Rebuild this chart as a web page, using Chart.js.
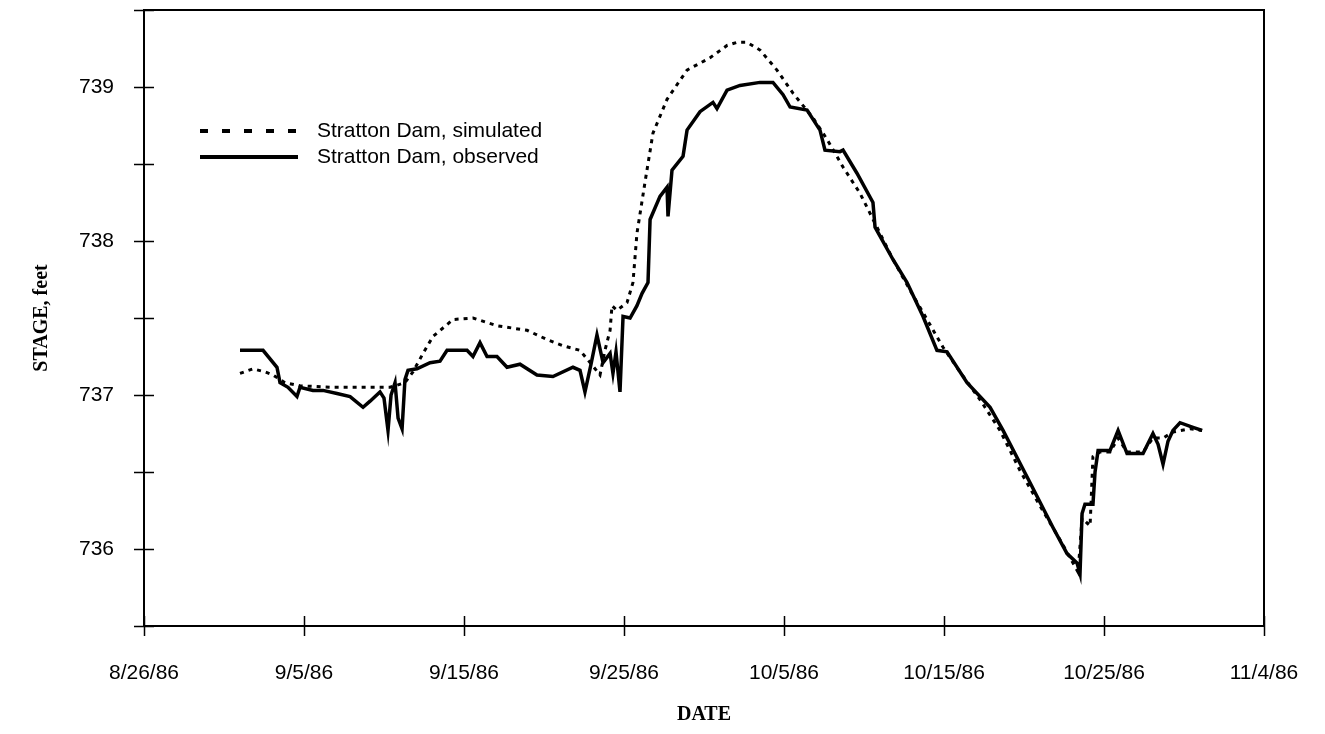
<!DOCTYPE html>
<html>
<head>
<meta charset="utf-8">
<script src="https://cdn.jsdelivr.net/npm/chart.js@4"></script>
<style>
  html, body { margin: 0; padding: 0; background: #fff; }
  #wrap { width: 1325px; height: 734px; }
</style>
</head>
<body>
<div id="wrap"><canvas id="c" width="1325" height="734"></canvas></div>
<script>
// Days after 8/26/86
const xTickLabels = ['8/26/86', '9/5/86', '9/15/86', '9/25/86', '10/5/86', '10/15/86', '10/25/86', '11/4/86'];

const observedDays = [6.0, 7.06, 7.44, 8.31, 8.5, 9.0, 9.56, 9.75, 10.56, 11.19, 12.06, 12.88, 13.69, 14.13, 14.75, 15.0, 15.25, 15.44, 15.69, 15.88, 16.13, 16.31, 16.5, 17.06, 17.88, 18.5, 18.94, 20.19, 20.56, 21.0, 21.44, 22.06, 22.69, 23.5, 24.56, 25.56, 26.81, 27.25, 27.56, 27.94, 28.31, 28.69, 29.13, 29.31, 29.5, 29.75, 29.94, 30.38, 30.81, 31.13, 31.5, 31.63, 32.25, 32.69, 32.75, 33.0, 33.69, 33.94, 34.75, 35.56, 35.81, 36.44, 37.25, 38.5, 39.31, 39.94, 40.38, 41.44, 42.25, 42.56, 43.5, 43.69, 44.56, 45.56, 45.69, 46.81, 47.69, 48.69, 49.56, 50.19, 51.44, 52.88, 53.69, 55.38, 56.81, 57.69, 58.31, 58.5, 58.63, 58.81, 59.31, 59.44, 59.63, 60.38, 60.88, 61.44, 62.44, 63.06, 63.38, 63.69, 64.0, 64.31, 64.75, 65.56, 66.13];
const observedStage = [737.29, 737.29, 737.29, 737.18, 737.08, 737.05, 736.99, 737.05, 737.03, 737.03, 737.01, 736.99, 736.92, 736.96, 737.02, 736.98, 736.77, 737.0, 737.08, 736.85, 736.78, 737.1, 737.16, 737.17, 737.21, 737.22, 737.29, 737.29, 737.25, 737.34, 737.25, 737.25, 737.18, 737.2, 737.13, 737.12, 737.18, 737.16, 737.02, 737.2, 737.39, 737.21, 737.27, 737.14, 737.28, 737.02, 737.51, 737.5, 737.58, 737.66, 737.73, 738.14, 738.29, 738.35, 738.16, 738.46, 738.55, 738.72, 738.84, 738.9, 738.86, 738.98, 739.01, 739.03, 739.03, 738.95, 738.87, 738.85, 738.72, 738.59, 738.58, 738.59, 738.44, 738.25, 738.09, 737.88, 737.73, 737.51, 737.29, 737.28, 737.08, 736.92, 736.77, 736.43, 736.14, 735.97, 735.91, 735.84, 736.23, 736.29, 736.29, 736.5, 736.64, 736.64, 736.77, 736.62, 736.62, 736.75, 736.68, 736.55, 736.7, 736.77, 736.82, 736.79, 736.77];

const simulatedDays = [6.0, 6.81, 7.56, 8.06, 8.81, 9.75, 11.63, 13.5, 15.38, 16.31, 16.81, 17.44, 18.06, 19.31, 20.56, 22.06, 23.94, 25.19, 26.19, 27.25, 27.88, 28.5, 28.81, 29.13, 29.25, 29.56, 30.19, 30.56, 30.81, 31.31, 31.81, 32.69, 33.94, 35.38, 36.44, 37.06, 37.69, 38.5, 39.56, 40.56, 41.81, 42.69, 43.69, 44.75, 45.81, 46.81, 47.88, 48.94, 49.94, 51.0, 52.25, 53.5, 54.75, 56.0, 57.25, 58.38, 58.63, 59.13, 59.31, 59.75, 60.38, 60.88, 61.44, 62.44, 63.06, 63.69, 64.31, 65.38, 66.13];
const simulatedStage = [737.14, 737.17, 737.15, 737.13, 737.08, 737.06, 737.05, 737.05, 737.05, 737.08, 737.15, 737.27, 737.38, 737.49, 737.5, 737.45, 737.42, 737.36, 737.32, 737.29, 737.21, 737.13, 737.29, 737.42, 737.58, 737.55, 737.6, 737.73, 738.05, 738.38, 738.7, 738.92, 739.11, 739.19, 739.27, 739.29, 739.29, 739.24, 739.11, 738.96, 738.8, 738.66, 738.48, 738.31, 738.09, 737.88, 737.68, 737.49, 737.31, 737.15, 736.97, 736.77, 736.51, 736.28, 736.06, 735.85, 736.2, 736.15, 736.6, 736.63, 736.63, 736.72, 736.63, 736.63, 736.72, 736.72, 736.76, 736.78, 736.77];

const seriesLabels = ['Stratton Dam, simulated', 'Stratton Dam, observed'];

const toPts = (xs, ys) => xs.map((x, i) => ({x: x, y: ys[i]}));

const frameAndTicks = {
  id: 'frameAndTicks',
  afterDraw(chart) {
    const ctx = chart.ctx;
    const a = chart.chartArea;
    const xs = chart.scales.x, ys = chart.scales.y;
    ctx.save();
    ctx.strokeStyle = '#000';
    ctx.lineWidth = 2;
    ctx.strokeRect(a.left, a.top, a.right - a.left, a.bottom - a.top);
    ctx.lineWidth = 1.5;
    ctx.beginPath();
    ys.ticks.forEach(t => {
      const py = Math.round(ys.getPixelForValue(t.value)) + 0.5;
      ctx.moveTo(a.left - 10, py); ctx.lineTo(a.left + 10, py);
    });
    xs.ticks.forEach(t => {
      const px = Math.round(xs.getPixelForValue(t.value)) + 0.5;
      ctx.moveTo(px, a.bottom - 10); ctx.lineTo(px, a.bottom + 10);
    });
    ctx.stroke();

    // legend inside plot
    const items = chart.data.datasets;
    const lx0 = 200, lx1 = 298, tx = 317;
    const lys = [131, 157];
    ctx.font = '21px "Liberation Sans", Arial, sans-serif';
    ctx.textBaseline = 'middle';
    ctx.fillStyle = '#000';
    items.forEach((ds, i) => {
      ctx.beginPath();
      ctx.lineWidth = 4;
      ctx.setLineDash(i === 0 ? [8, 14] : []);
      ctx.moveTo(lx0, lys[i]); ctx.lineTo(lx1, lys[i]);
      ctx.stroke();
      ctx.setLineDash([]);
      ctx.fillText(ds.label, tx, lys[i]);
    });
    ctx.restore();
  }
};

new Chart(document.getElementById('c'), {
  type: 'line',
  data: {
    datasets: [
      {
        label: seriesLabels[0],
        data: toPts(simulatedDays, simulatedStage),
        borderColor: '#000',
        borderWidth: 3,
        borderDash: [4, 5],
        pointRadius: 0,
        tension: 0,
        fill: false
      },
      {
        label: seriesLabels[1],
        data: toPts(observedDays, observedStage),
        borderColor: '#000',
        borderWidth: 3.5,
        pointRadius: 0,
        tension: 0,
        fill: false
      }
    ]
  },
  options: {
    responsive: false,
    animation: false,
    events: [],
    layout: { padding: { top: 10, right: 61, left: 0, bottom: 0 } },
    plugins: { legend: { display: false }, tooltip: { enabled: false } },
    scales: {
      x: {
        type: 'linear',
        min: 0, max: 70,
        grid: { display: false },
        border: { display: false },
        afterFit: s => { s.height = 108; s.paddingLeft = 0; s.paddingRight = 0; },
        ticks: {
          stepSize: 10,
          autoSkip: false,
          maxRotation: 0,
          padding: 27,
          color: '#000',
          font: { family: '"Liberation Sans", Arial, sans-serif', size: 21 },
          callback: v => xTickLabels[Math.round(v / 10)]
        },
        title: {
          display: true,
          text: 'DATE',
          color: '#000',
          font: { family: '"Liberation Serif", "Times New Roman", serif', size: 20, weight: 'bold' },
          padding: { top: 0, bottom: 7 }
        }
      },
      y: {
        min: 735.5, max: 739.5,
        grid: { display: false },
        border: { display: false },
        afterFit: s => { s.width = 144; s.paddingTop = 0; s.paddingBottom = 0; },
        ticks: {
          stepSize: 0.5,
          autoSkip: false,
          padding: 22,
          color: '#000',
          font: { family: '"Liberation Sans", Arial, sans-serif', size: 21 },
          callback: v => (Math.abs(v - Math.round(v)) < 1e-6 ? String(Math.round(v)) : '')
        },
        title: {
          display: true,
          text: 'STAGE, feet',
          color: '#000',
          font: { family: '"Liberation Serif", "Times New Roman", serif', size: 20, weight: 'bold' },
          padding: { top: 30, bottom: 0 }
        }
      }
    }
  },
  plugins: [frameAndTicks]
});
</script>
</body>
</html>
